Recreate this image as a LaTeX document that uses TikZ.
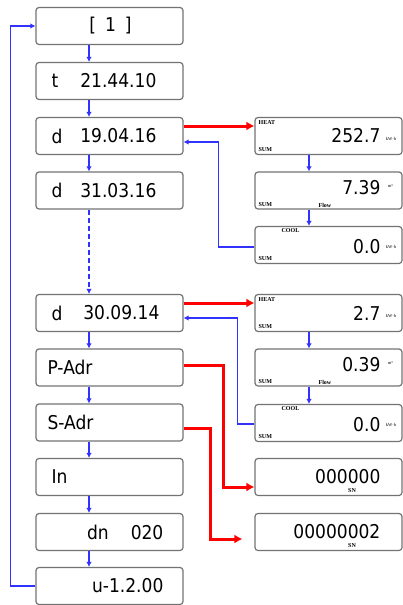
\documentclass[tikz,border=0pt]{standalone}
\usepackage{fontspec}
\usetikzlibrary{positioning,arrows.meta,calc}
\usepackage{xcolor}

\newfontfamily\segfont{DejaVu Sans Condensed}
\newfontfamily\tagfont{Liberation Serif}
\definecolor{lcdblue}{RGB}{50,50,255}
\definecolor{lcdred}{RGB}{255,0,0}
\definecolor{boxgray}{RGB}{115,115,115}

\tikzset{
  lcd/.style={draw=boxgray, line width=1.2pt, rounded corners=3pt,
    minimum width=147pt, minimum height=37pt, inner sep=0pt},
  seg/.style={font=\segfont\fontsize{19}{19}\selectfont, inner sep=0pt},
  tag/.style={font=\tagfont\bfseries\fontsize{6}{7}\selectfont, inner sep=0pt},
  unit/.style={font=\tagfont\fontsize{4.5}{5}\selectfont, inner sep=0pt},
  nxt/.style={lcdblue, line width=1.5pt, -{Latex[length=5pt,width=5.5pt]}},
  jump/.style={lcdred, line width=3pt, -{Latex[length=8pt,width=9pt]}},
}

\begin{document}
\begin{tikzpicture}[x=1pt, y=-1pt]
\useasboundingbox (0,0) rectangle (403,605);

% Left column of displays
\foreach \name/\y in {L1/26, L2/81, L3/136, L4/190.5, L5/313, L6/367.5,
                      L7/422.5, L8/477, L9/532, L10/586} {
  \node[lcd] (\name) at (109.5,\y) {};
}

% Texts of the left column
\node[seg] (T1) at ([xshift=1pt]L1.center) {[\hspace{9pt}1\hspace{9pt}]};
\node[seg, anchor=west] (T2a) at ([xshift=16pt]L2.west) {t};
\node[seg, anchor=east] (T2b) at ([xshift=-27pt]L2.east) {21.44.10};
\node[seg, anchor=west] (T3a) at ([xshift=16pt]L3.west) {d};
\node[seg, anchor=east] (T3b) at ([xshift=-27pt]L3.east) {19.04.16};
\node[seg, anchor=west] (T4a) at ([xshift=16pt]L4.west) {d};
\node[seg, anchor=east] (T4b) at ([xshift=-27pt]L4.east) {31.03.16};
\node[seg, anchor=west] (T5a) at ([xshift=16pt]L5.west) {d};
\node[seg, anchor=east] (T5b) at ([xshift=-24pt]L5.east) {30.09.14};
\node[seg, anchor=west] (T6) at ([xshift=12pt]L6.west) {P-Adr};
\node[seg, anchor=west] (T7) at ([xshift=12pt]L7.west) {S-Adr};
\node[seg, anchor=west] (T8) at ([xshift=16pt]L8.west) {In};
\node[seg, anchor=east] (T9) at ([xshift=-20pt]L9.east) {dn\hspace{22pt}020};
\node[seg, anchor=east] (T10) at ([xshift=-20pt]L10.east) {u-1.2.00};

% Right column of displays
\foreach \name/\y in {H1/136, F1/190.5, C1/245, H2/313, F2/367.5, C2/423,
                      S1/477, S2/532} {
  \node[lcd] (\name) at (328.5,\y) {};
}

% Heat, flow and cool displays (two groups)
\foreach \g/\heat/\flow in {1/252.7/7.39, 2/2.7/0.39} {
  \node[tag, anchor=north west] (H\g t) at ([xshift=4pt,yshift=-3pt]H\g.north west) {HEAT};
  \node[tag, anchor=south west] (H\g s) at ([xshift=4pt,yshift=3pt]H\g.south west) {SUM};
  \node[seg, anchor=east] (H\g v) at ([xshift=-22pt]H\g.east) {\heat};
  \node[unit, anchor=west] (H\g u) at ([xshift=-17pt,yshift=-3pt]H\g.east) {kW·h};
  \node[tag, anchor=south west] (F\g s) at ([xshift=4pt,yshift=3pt]F\g.south west) {SUM};
  \node[tag, anchor=south west] (F\g f) at ([xshift=64pt,yshift=2pt]F\g.south west) {Flow};
  \node[seg, anchor=east] (F\g v) at ([xshift=-22pt,yshift=3pt]F\g.east) {\flow};
  \node[unit, anchor=west] (F\g u) at ([xshift=-15pt,yshift=4pt]F\g.east) {m³};
  \node[tag, anchor=north west] (C\g t) at ([xshift=27pt,yshift=-2pt]C\g.north west) {COOL};
  \node[tag, anchor=south west] (C\g s) at ([xshift=4pt,yshift=3pt]C\g.south west) {SUM};
  \node[seg, anchor=east] (C\g v) at ([xshift=-22pt,yshift=-2pt]C\g.east) {0.0};
  \node[unit, anchor=west] (C\g u) at ([xshift=-17pt,yshift=-2pt]C\g.east) {kW·h};
}

% Serial number displays
\node[seg, anchor=east] (S1v) at ([xshift=-22pt]S1.east) {000000};
\node[tag] (S1n) at ([xshift=23.5pt,yshift=-14pt]S1.center) {SN};
\node[seg, anchor=east] (S2v) at ([xshift=-22pt]S2.east) {00000002};
\node[tag] (S2n) at ([xshift=23.5pt,yshift=-14pt]S2.center) {SN};

% Blue steps down both columns
\foreach \a/\b in {L1/L2, L2/L3, L3/L4, L5/L6, L6/L7, L7/L8, L8/L9, L9/L10} {
  \draw[nxt] ([xshift=-20.5pt]\a.south) -- ([xshift=-20.5pt]\b.north);
}
\foreach \a/\b in {H1/F1, F1/C1, H2/F2, F2/C2} {
  \draw[nxt] ([xshift=-19.5pt]\a.south) -- ([xshift=-19.5pt]\b.north);
}
\draw[nxt, line width=1.9pt, dash pattern=on 5pt off 3pt]
  ([xshift=-20.5pt]L4.south) -- ([xshift=-20.5pt]L5.north);

% Red jumps to the right
\draw[jump] ([yshift=10pt]L3.east) -- ([yshift=10pt]H1.west);
\draw[jump] ([yshift=10pt]L5.east) -- ([yshift=10pt]H2.west);
\draw[jump] ([yshift=2pt]L6.east) -- ++(40,0) |- ([yshift=-10pt]S1.west);
\draw[jump] ([yshift=-6pt]L7.east) -- ++(27,0) |- ([xshift=-12pt,yshift=-7pt]S2.west);

% Blue returns
\draw[nxt] ([yshift=-2pt]C1.west) -- ++(-36,0) |- ([yshift=-6pt]L3.east);
\draw[nxt] ([yshift=-1pt]C2.west) -- ++(-17,0) |- ([yshift=-5pt]L5.east);
\draw[nxt] (L10.west) -- ++(-25,0) |- (L1.west);

\end{tikzpicture}
\end{document}
